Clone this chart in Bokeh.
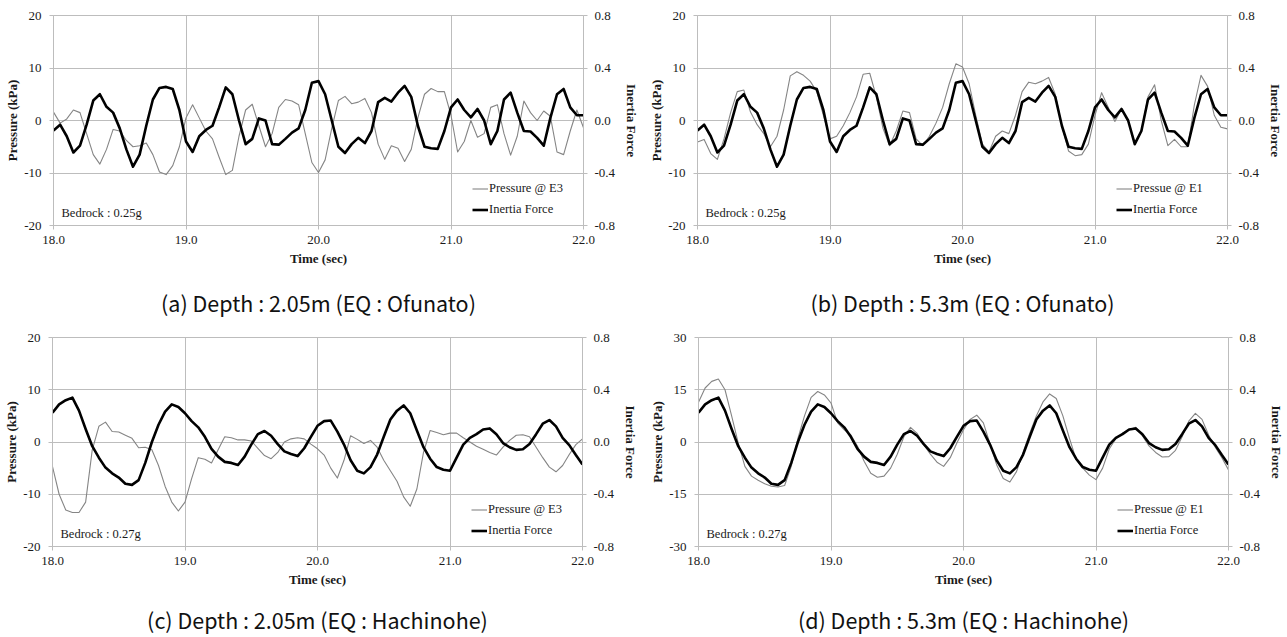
import math
from bokeh.plotting import figure
from bokeh.models import (Range1d, LinearAxis, Legend, LegendItem, Label,
                          FixedTicker, NumeralTickFormatter, ColumnDataSource)
from bokeh.layouts import column, row
from bokeh.embed import file_html
from bokeh.resources import INLINE

# ---------------- data ----------------
time_s = [round(18.0 + 0.05 * i, 2) for i in range(81)]

# Inertia force, EQ Ofunato (panels a, b)
inertia_ofunato = [
    -0.076, -0.032, -0.12, -0.244, -0.192, -0.032, 0.152, 0.2, 0.104, 0.06,
    -0.06, -0.22, -0.352, -0.26, -0.04, 0.16, 0.248, 0.256, 0.24, 0.08,
    -0.16, -0.24, -0.12, -0.072, -0.04, 0.1, 0.252, 0.2, 0.0, -0.18,
    -0.14, 0.016, 0.0, -0.18, -0.184, -0.14, -0.092, -0.06, 0.08, 0.288,
    0.3, 0.2, 0.0, -0.2, -0.248, -0.18, -0.132, -0.172, -0.08, 0.14,
    0.172, 0.144, 0.212, 0.264, 0.18, -0.04, -0.2, -0.212, -0.216, -0.08,
    0.1, 0.16, 0.08, 0.024, 0.088, 0.0, -0.18, -0.08, 0.16, 0.212,
    0.06, -0.08, -0.084, -0.132, -0.192, 0.02, 0.2, 0.24, 0.1, 0.04,
    0.04]

# Inertia force, EQ Hachinohe (panels c, d)
inertia_hachinohe = [
    0.224, 0.288, 0.32, 0.34, 0.24, 0.1, -0.032, -0.12, -0.196, -0.24,
    -0.272, -0.32, -0.328, -0.292, -0.16, 0.0, 0.132, 0.232, 0.288, 0.268,
    0.22, 0.16, 0.112, 0.04, -0.052, -0.112, -0.152, -0.16, -0.176, -0.112,
    -0.02, 0.06, 0.084, 0.048, -0.016, -0.072, -0.092, -0.108, -0.048, 0.04,
    0.124, 0.16, 0.164, 0.08, -0.02, -0.14, -0.22, -0.24, -0.192, -0.096,
    0.04, 0.172, 0.24, 0.28, 0.22, 0.088, -0.04, -0.128, -0.192, -0.212,
    -0.22, -0.12, -0.02, 0.032, 0.06, 0.096, 0.104, 0.06, -0.008, -0.04,
    -0.06, -0.056, -0.016, 0.06, 0.14, 0.168, 0.12, 0.032, -0.024, -0.1,
    -0.172]

# (a) Pressure @ E3, depth 2.05 m, Ofunato (kPa)
pressure_a = [
    1.6, -0.5, 0.3, 2.0, 1.5, -2.5, -6.5, -8.3, -5.5, -1.7,
    -2.0, -3.8, -5.0, -4.8, -4.3, -6.5, -9.8, -10.3, -8.6, -5.0,
    0.5, 3.0, 0.5, -2.0, -3.5, -7.0, -10.3, -9.5, -3.0, 2.0,
    3.1, -1.0, -5.0, -2.5, 2.5, 4.0, 3.7, 3.0, -2.5, -8.0,
    -9.9, -7.5, -1.5, 3.8, 4.6, 3.2, 3.5, 4.2, 1.5, -4.5,
    -7.4, -4.8, -5.3, -7.8, -5.5, 0.5, 5.0, 6.1, 5.5, 5.5,
    1.0, -6.0, -4.0, 0.0, -3.2, -2.5, 2.5, 3.0, -2.5, -6.6,
    -3.0, 3.7, 1.5, 0.0, 1.8, 0.8, -6.0, -6.5, -2.0, 2.0,
    -1.4]

# (b) Pressue @ E1, depth 5.3 m, Ofunato (kPa)
pressure_b = [
    -4.1, -3.6, -6.3, -7.4, -3.5, 1.5, 5.5, 5.8, 1.6, -0.8,
    -2.5, -5.0, -3.0, 2.0, 8.5, 9.3, 8.6, 7.5, 5.5, 1.0,
    -3.5, -3.0, -1.0, 1.5, 4.5, 8.8, 9.0, 4.5, -1.5, -4.8,
    -2.0, 1.8, 1.5, -3.5, -4.8, -3.0, -0.5, 2.5, 7.0, 10.8,
    10.2, 7.0, 1.0, -4.5, -6.0, -3.0, -2.0, -2.5, 1.0, 5.5,
    7.3, 7.0, 7.5, 8.2, 5.0, -1.0, -5.8, -6.7, -6.5, -4.5,
    1.0, 5.3, 2.5, -0.2, 2.2, 0.0, -4.2, -2.0, 4.5, 6.8,
    0.0, -4.8, -3.6, -5.0, -5.0, 3.0, 8.6, 6.5, 1.0, -1.3,
    -1.6]

# (c) Pressure @ E3, depth 2.05 m, Hachinohe (kPa)
pressure_c = [
    -4.7, -10.0, -13.0, -13.5, -13.5, -11.5, -1.5, 3.0, 3.8, 2.0,
    1.9, 1.3, 0.7, -1.1, -1.0, -1.5, -4.5, -8.5, -11.5, -13.2,
    -11.5, -7.0, -3.0, -3.3, -4.0, -1.5, 1.0, 0.8, 0.4, 0.4,
    0.2, -1.2, -2.6, -3.2, -2.0, 0.0, 0.6, 0.8, 0.6, -0.4,
    -1.3, -2.5, -5.0, -6.9, -3.5, 1.2, 0.5, -0.3, 0.3, -1.0,
    -3.5, -5.5, -7.5, -10.5, -12.3, -9.0, -2.0, 2.2, 1.8, 1.4,
    1.7, 1.7, 0.8, 0.0, -0.8, -1.4, -2.0, -2.5, -1.0, 0.3,
    1.3, 1.4, 1.0, -1.0, -3.0, -4.8, -5.7, -4.5, -2.4, -0.5,
    0.6]

# (d) Pressue @ E1, depth 5.3 m, Hachinohe (kPa)
pressure_d = [
    11.4, 15.5, 17.4, 18.1, 15.0, 7.5, -0.3, -7.0, -9.8, -11.0,
    -12.0, -12.7, -12.9, -12.5, -7.0, 1.0, 7.5, 12.8, 14.5, 13.5,
    11.2, 5.5, 3.5, 2.0, -1.2, -5.5, -9.0, -10.1, -9.8, -7.5,
    -3.5, 1.5, 4.2, 2.5, -0.8, -3.5, -5.8, -7.0, -4.5, -0.3,
    3.5, 6.5, 7.7, 5.5, -0.5, -6.5, -10.5, -11.5, -8.5, -3.0,
    2.5, 7.5, 11.5, 13.8, 12.5, 7.5, 1.0, -5.0, -7.5, -9.5,
    -10.8, -7.5, -2.0, 1.0, 2.5, 3.5, 4.2, 1.8, -1.1, -3.0,
    -4.3, -4.2, -2.4, 1.5, 6.0, 8.2, 6.5, 2.0, -1.5, -4.5,
    -8.0]

x_ticks = [18, 19, 20, 21, 22]
inertia_ticks = [-0.8, -0.4, 0.0, 0.4, 0.8]
pressure_ticks_20 = [-20, -10, 0, 10, 20]
pressure_ticks_30 = [-30, -15, 0, 15, 30]

captions = ["(a) Depth : 2.05m (EQ : Ofunato)",
            "(b) Depth : 5.3m (EQ : Ofunato)",
            "(c) Depth : 2.05m (EQ : Hachinohe)",
            "(d) Depth : 5.3m (EQ : Hachinohe)"]

# ---------------- styling ----------------
SERIF = "'Liberation Serif'"
CAPTION_FONT = "'Noto Sans CJK KR'"
GRID = "#bdbdbd"
TEXT = "#1a1a1a"


def make_panel(width, height, bl, br, bt, bb, press, inertia, pmax, pticks,
               press_name, bedrock):
    frame_w = width - bl - br
    frame_h = height - bt - bb
    p = figure(width=width, height=height, title=None,
               x_range=Range1d(18, 22), y_range=Range1d(-pmax, pmax),
               output_backend="svg", toolbar_location=None,
               x_axis_label="Time (sec)", y_axis_label="Pressure (kPa)",
               min_border_left=bl, min_border_right=br,
               min_border_top=bt, min_border_bottom=bb)
    p.extra_y_ranges = {"inertia": Range1d(-0.8, 0.8)}
    right = LinearAxis(y_range_name="inertia", axis_label="Inertia Force")
    p.add_layout(right, "right")

    p.xaxis.ticker = FixedTicker(ticks=x_ticks)
    p.xaxis.formatter = NumeralTickFormatter(format="0.0")
    p.yaxis[0].ticker = FixedTicker(ticks=pticks)
    p.yaxis[0].formatter = NumeralTickFormatter(format="0")
    right.ticker = FixedTicker(ticks=inertia_ticks)
    right.formatter = NumeralTickFormatter(format="0.0")

    for ax in [p.xaxis[0], p.yaxis[0], right]:
        ax.axis_line_color = GRID
        ax.major_tick_line_color = GRID
        ax.major_tick_out = 4
        ax.major_tick_in = 0
        ax.minor_tick_line_color = None
        ax.major_label_text_font = SERIF
        ax.major_label_text_font_size = "13px"
        ax.major_label_text_color = TEXT
        ax.axis_label_text_font = SERIF
        ax.axis_label_text_font_style = "bold"
        ax.axis_label_text_font_size = "13px"
        ax.axis_label_text_color = TEXT
    p.xaxis.major_label_standoff = 6
    p.xaxis.axis_label_standoff = 4
    p.yaxis[0].major_label_standoff = 8
    p.yaxis[0].axis_label_standoff = 1
    right.major_label_standoff = 7
    right.axis_label_standoff = 6

    p.xgrid.grid_line_color = GRID
    p.ygrid.grid_line_color = GRID
    p.outline_line_color = GRID
    p.background_fill_color = "white"
    p.border_fill_color = "white"

    src = ColumnDataSource(dict(t=time_s, p=press, f=inertia))
    r1 = p.line("t", "p", source=src, line_color="#858585", line_width=1.1,
                line_join="round")
    r2 = p.line("t", "f", source=src, y_range_name="inertia",
                line_color="black", line_width=2.6, line_join="round")

    legend = Legend(items=[LegendItem(label=press_name, renderers=[r1]),
                           LegendItem(label="Inertia Force", renderers=[r2])],
                    location=(419, 7), margin=0, padding=0, spacing=4,
                    glyph_width=16, glyph_height=17, label_height=17,
                    label_standoff=1, border_line_alpha=0,
                    background_fill_alpha=0,
                    label_text_font=SERIF, label_text_font_size="12.5px",
                    label_text_color=TEXT)
    p.add_layout(legend)

    p.add_layout(Label(x=18 + 4.0 * 8 / frame_w, y=-pmax + 2.0 * pmax * 13 / frame_h,
                       text=bedrock, text_font=SERIF, text_font_size="12.5px",
                       text_color=TEXT, text_baseline="middle"))
    return p


def make_caption(width, height, center_x, center_y_from_top, text):
    c = figure(width=width, height=height, title=None,
               x_range=Range1d(0, width), y_range=Range1d(0, height),
               output_backend="svg", toolbar_location=None,
               x_axis_location=None, y_axis_location=None,
               min_border=0, min_border_left=0, min_border_right=0,
               min_border_top=0, min_border_bottom=0)
    c.grid.visible = False
    c.outline_line_color = None
    c.background_fill_color = "white"
    c.border_fill_color = "white"
    c.add_layout(Label(x=center_x, y=height - center_y_from_top, text=text,
                       text_font=CAPTION_FONT, text_font_size="21.5px",
                       text_color="#111111", text_align="center",
                       text_baseline="middle"))
    return c


# top row: figures 0..280, captions 280..318 ; bottom row: 318..600, 600..637
pa = make_panel(643, 280, 53, 60, 12, 53, pressure_a, inertia_ofunato, 20,
                pressure_ticks_20, "Pressure @ E3", "Bedrock : 0.25g")
pb = make_panel(644, 280, 54, 60, 15, 55, pressure_b, inertia_ofunato, 20,
                pressure_ticks_20, "Pressue @ E1", "Bedrock : 0.25g")
pc = make_panel(643, 282, 52, 61, 16, 54, pressure_c, inertia_hachinohe, 20,
                pressure_ticks_20, "Pressure @ E3", "Bedrock : 0.27g")
pd = make_panel(644, 282, 55, 59, 19, 53, pressure_d, inertia_hachinohe, 30,
                pressure_ticks_30, "Pressue @ E1", "Bedrock : 0.27g")

ca = make_caption(643, 38, 53 + 265, 22, captions[0])
cb = make_caption(644, 38, 54 + 265, 22, captions[1])
cc = make_caption(643, 37, 52 + 265, 19, captions[2])
cd = make_caption(644, 37, 55 + 265, 19, captions[3])

layout = column(row(pa, pb), row(ca, cb), row(pc, pd), row(cc, cd))
open("out.html", "w").write(file_html(layout, INLINE))
